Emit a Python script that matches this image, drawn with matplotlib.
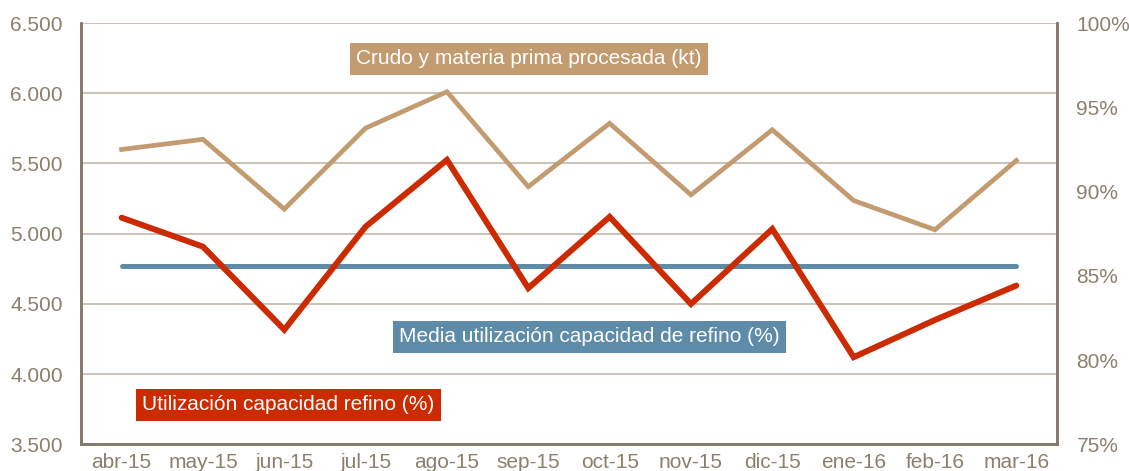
import matplotlib
matplotlib.use("Agg")
import matplotlib.pyplot as plt
from matplotlib.ticker import FuncFormatter

plt.rcParams["font.family"] = ["Liberation Sans", "DejaVu Sans"]

months = ["abr-15", "may-15", "jun-15", "jul-15", "ago-15", "sep-15",
          "oct-15", "nov-15", "dic-15", "ene-16", "feb-16", "mar-16"]
crudo_kt = [5600, 5672, 5175, 5752, 6011, 5335, 5786, 5277, 5740, 5236, 5028, 5521]
utilizacion_pct = [88.45, 86.73, 81.8, 87.92, 91.88, 84.27, 88.5, 83.33, 87.78, 80.17, 82.38, 84.42]
media_pct = 85.6

C_CRUDO = "#C29B70"
C_UTIL = "#CC2A00"
C_MEDIA = "#5E8CA8"
C_TEXT = "#8A806C"
C_SPINE = "#817866"
C_GRID = "#CAC2B4"

FS = 15

fig = plt.figure(figsize=(11.29, 4.71), dpi=100)
ax = fig.add_axes([0.0717, 0.0567, 0.8645, 0.8943])
ax2 = ax.twinx()

x = list(range(len(months)))

ax.plot(x, crudo_kt, color=C_CRUDO, lw=3.4, solid_joinstyle="miter", zorder=3)
ax2.plot(x, [media_pct] * len(months), color=C_MEDIA, lw=3.6,
         solid_capstyle="round", zorder=3)
ax2.plot(x, utilizacion_pct, color=C_UTIL, lw=4.3, solid_joinstyle="miter",
         solid_capstyle="round", zorder=4)

ax.set_xlim(-0.5, len(months) - 0.5)
ax.set_ylim(3500, 6500)
ax.set_yticks(range(3500, 6501, 500))
ax.yaxis.set_major_formatter(FuncFormatter(lambda v, p: f"{int(v):,}".replace(",", ".")))
ax2.set_ylim(75, 100)
ax2.set_yticks(range(75, 101, 5))
ax2.yaxis.set_major_formatter(FuncFormatter(lambda v, p: f"{int(v)}%"))

ax.set_xticks(x)
ax.set_xticklabels(months)

ax.grid(axis="y", color=C_GRID, lw=1.4, zorder=0)
ax.set_axisbelow(True)

for a in (ax, ax2):
    a.spines["top"].set_visible(False)
    for s in ("left", "right", "bottom"):
        a.spines[s].set_color(C_SPINE)
        a.spines[s].set_linewidth(1.8)

ax.tick_params(axis="y", length=0, pad=13, labelsize=FS, labelcolor=C_TEXT)
ax.tick_params(axis="x", length=0, pad=6, labelsize=FS, labelcolor=C_TEXT)
ax2.tick_params(axis="y", length=0, pad=14, labelsize=FS, labelcolor=C_TEXT)

def tag(text, xc, yc, color):
    fig.text(xc / 1129, 1 - yc / 471, text, color="white", fontsize=FS,
             ha="center", va="center",
             bbox=dict(boxstyle="square,pad=0.3", fc=color, ec="none"))

tag("Crudo y materia prima procesada (kt)", 529, 59, C_CRUDO)
tag("Media utilización capacidad de refino (%)", 589.5, 337, C_MEDIA)
tag("Utilización capacidad refino (%)", 288.5, 405, C_UTIL)

fig.savefig("out.png", dpi=100)
